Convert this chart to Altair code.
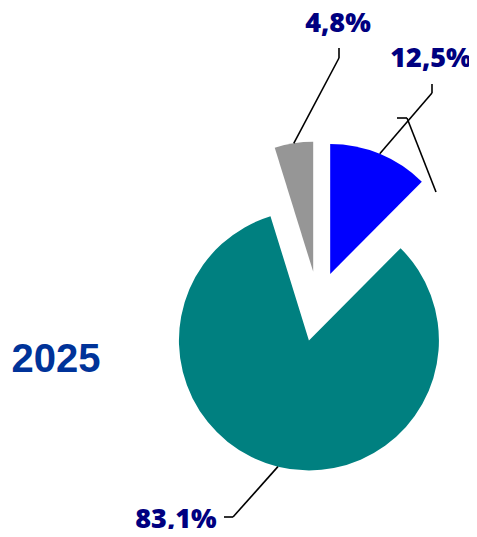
import math
import pandas as pd
import altair as alt

# ---- data ----
names = ["Blau", "Petrol", "Grau"]
values = [12.5, 83.1, 4.8]
value_labels = ["12,5%", "83,1%", "4,8%"]
year_label = "2025"

# ---- styles / layout (plot coordinates = page - 8px margin) ----
colors = ["#0000FF", "#008080", "#969696"]
label_color = "#000080"
year_color = "#003399"
R = 130
CX, CY = 310, 295.5
explode = [32, 38, 32]
label_pos = [(423, 59), (168, 520), (330, 24)]     # text anchor (center, baseline)
elbow = [(424, 85), (225, 509), (331, 50)]
elbow_end = [(424, 76), (216, 509), (331, 40)]

total = sum(values)
rows, segs, texts = [], [], []
acc = 0.0
for i, (n, v) in enumerate(zip(names, values)):
    a0 = acc / total * 2 * math.pi
    acc += v
    a1 = acc / total * 2 * math.pi
    mid = (a0 + a1) / 2
    cx = CX + explode[i] * math.sin(mid)
    cy = CY - explode[i] * math.cos(mid)
    rows.append(dict(name=n, start=a0, end=a1, cx=cx, cy=cy))
    sx = cx + R * math.sin(mid)
    sy = cy - R * math.cos(mid)
    segs.append(dict(x=sx, y=sy, x2=elbow[i][0], y2=elbow[i][1]))
    segs.append(dict(x=elbow[i][0], y=elbow[i][1], x2=elbow_end[i][0], y2=elbow_end[i][1]))
    texts.append(dict(x=label_pos[i][0], y=label_pos[i][1], t=value_labels[i]))

# stray leftover leader line visible in the reference
segs.append(dict(x=389, y=110, x2=399, y2=110))
segs.append(dict(x=399, y=110, x2=428, y2=184))

df = pd.DataFrame(rows)
seg_df = pd.DataFrame(segs)
txt_df = pd.DataFrame(texts)

arcs = alt.Chart(df).mark_arc(radius=R).encode(
    theta=alt.Theta("start:Q", scale=None),
    theta2="end:Q",
    x=alt.X("cx:Q", scale=None),
    y=alt.Y("cy:Q", scale=None),
    color=alt.Color("name:N", scale=alt.Scale(domain=names, range=colors), legend=None),
)

lines = alt.Chart(seg_df).mark_rule(color="black", strokeWidth=1.6).encode(
    x=alt.X("x:Q", scale=None), y=alt.Y("y:Q", scale=None),
    x2="x2:Q", y2="y2:Q",
)

labels = alt.Chart(txt_df).mark_text(
    font="Open Sans", fontWeight=800, fontSize=27, color=label_color,
    align="center", baseline="alphabetic",
).encode(x=alt.X("x:Q", scale=None), y=alt.Y("y:Q", scale=None), text="t:N")

year = alt.Chart(pd.DataFrame({"t": [year_label], "x": [48], "y": [364]})).mark_text(
    font="Liberation Sans", fontWeight="bold", fontSize=40, color=year_color,
    align="center", baseline="alphabetic",
).encode(x=alt.X("x:Q", scale=None), y=alt.Y("y:Q", scale=None), text="t:N")

chart = alt.layer(arcs, lines, labels, year).properties(
    width=461, height=521, autosize="none", padding=0, background="white"
).configure_view(stroke=None)

chart.save("out.html", embed_options={"renderer": "svg", "actions": False})
